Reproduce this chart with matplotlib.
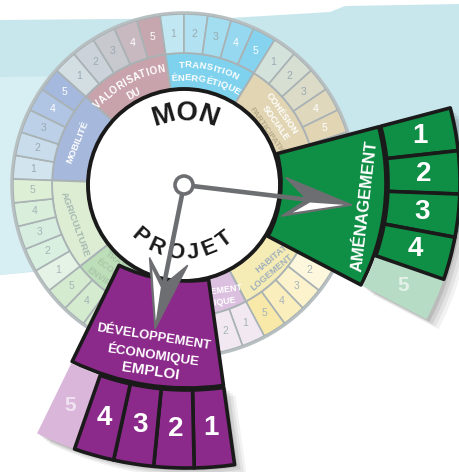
import numpy as np
import matplotlib
matplotlib.use("Agg")
import matplotlib.pyplot as plt
from matplotlib.patches import Wedge, Circle, Polygon
from matplotlib.font_manager import FontProperties
from matplotlib.textpath import TextToPath

# ---------------- data ----------------
themes = ["MOBILITÉ", "VALORISATION DU PATRIMOINE", "TRANSITION ÉNERGÉTIQUE",
          "COHÉSION SOCIALE PARTICIPATION", "AMÉNAGEMENT", "HABITAT LOGEMENT",
          "DÉVELOPPEMENT ÉCONOMIQUE EMPLOI", "TRANSITION ÉCOLOGIQUE ENVIRONNEMENT",
          "AGRICULTURE"]
levels = [1, 2, 3, 4, 5]
# level reached by the project on each selected theme (0 = not selected)
reached = [0, 0, 0, 0, 4, 0, 4, 0, 0]
popped_labels = {"AMÉNAGEMENT": ["AMÉNAGEMENT"],
                 "DÉVELOPPEMENT ÉCONOMIQUE EMPLOI": ["DÉVELOPPEMENT", "ÉCONOMIQUE", "EMPLOI"]}
center_words = ["MON", "PROJET"]

# ---------------- style ----------------
FONT = "Liberation Sans"
label_colors = ['#a6b8dc', '#c9a3ab', '#7fd2ee', '#e2d5b3', '#b8dcc3',
                '#f5ebb4', '#dcc0e0', '#bcdfba', '#dcedd3']
cell_colors = [
    ['#d2e5ee', '#c8dcec', '#bcd0e8', '#b0c4e3', '#a5b8dd'],
    ['#d3dee2', '#ccd2d9', '#c8c8cf', '#c8b9c1', '#c6a7af'],
    ['#c1e8f2', '#b2e2f1', '#a3ddf0', '#95d8f0', '#86d3ef'],
    ['#d4e2dc', '#d7dfd2', '#dbdbc7', '#dfd8bd', '#e2d5b4'],
    ['#c6e6d2'] * 5,
    ['#fefbe9', '#fdf7dd', '#fcf2cc', '#fbeebd', '#f9e9a9'],
    ['#f2e8f2'] * 5,
    ['#d4ebcf'] * 5,
    ['#e4f3e6', '#d9efe0', '#d7eddf', '#d9eedb', '#ddefd5'],
]
num_colors = [['#9aaab3'] * 3 + ['white'] * 2] * 4 + [['#a6b4b8'] * 5] * 5
label_text_colors = ['white', 'white', 'white', 'white', 'white',
                     '#9fb0bd', 'white', '#a9c6a6', '#a5b8b0']
popped_color = {"AMÉNAGEMENT": ('#0f8e45', '#b7dcc5'),
                "DÉVELOPPEMENT ÉCONOMIQUE EMPLOI": ('#8c2a8b', '#dab7da')}
GREY = '#6d6e71'

W, H = 460, 472
C = np.array([184.0, 287.0])
R_IN, R_MID, R_OUT = 96, 132, 171
START, STEP = 178, 40

fig = plt.figure(figsize=(4.6, 4.72), dpi=100)
ax = fig.add_axes([0, 0, 1, 1])
ax.set_xlim(0, W)
ax.set_ylim(0, H)
ax.axis('off')

ttp = TextToPath()


def pol(c, r, th):
    t = np.deg2rad(th)
    return c[0] + r * np.cos(t), c[1] + r * np.sin(t)


def arc_text(s, c, r, th_c, fs, color, top=True, track=0.0, weight='bold', z=2.5, alpha=1):
    fp = FontProperties(family=FONT, weight=weight, size=fs)
    widths = []
    for ch in s:
        w, h, d = ttp.get_text_width_height_descent(ch, fp, ismath=False)
        widths.append(w * 100 / 72 + track)
    widths = np.array(widths)
    cum = np.cumsum(widths) - widths / 2
    offs = (cum - widths.sum() / 2) / r * 180 / np.pi
    for ch, o in zip(s, offs):
        th = th_c - o if top else th_c + o
        rot = th - 90 if top else th + 90
        x, y = pol(c, r, th)
        ax.text(x, y, ch, fontproperties=fp, color=color, rotation=rot,
                ha='center', va='center', rotation_mode='anchor', zorder=z, alpha=alpha)


def straight(s, c, r, th, rot, fs, color, weight='bold', z=2.5, ha='center'):
    x, y = pol(c, r, th)
    ax.text(x, y, s, family=FONT, weight=weight, size=fs, color=color, rotation=rot,
            ha=ha, va='center', rotation_mode='anchor', zorder=z)


# ---------------- background band ----------------
ax.add_patch(Polygon([(0, 452), (230, 454), (330, 460), (345, 466), (460, 468),
                      (460, 240), (0, 197)], closed=True, fc='#c8e7ed', ec='none', zorder=0))
ax.add_patch(Polygon([(0, 395), (200, 397), (200, 220), (0, 197)], closed=True,
                     fc='#d7eff3', ec='none', zorder=0.5))

# ---------------- wheel ----------------
for i, name in enumerate(themes):
    t_hi = START - STEP * i
    t_lo = t_hi - STEP
    ax.add_patch(Wedge(C, R_MID, t_lo, t_hi, width=R_MID - R_IN, fc=label_colors[i],
                       ec='#a9b2b4', lw=1.4, zorder=1))
    cw = STEP / len(levels)
    for k, lv in enumerate(levels):
        a_hi = t_hi - cw * k
        ax.add_patch(Wedge(C, R_OUT, a_hi - cw, a_hi, width=R_OUT - R_MID,
                           fc=cell_colors[i][k], ec='#a9b2b4', lw=1.2, zorder=1))
        x, y = pol(C, (R_MID + R_OUT) / 2, a_hi - cw / 2)
        ax.text(x, y, str(lv), family=FONT, size=7.5, color=num_colors[i][k],
                ha='center', va='center', zorder=2)
ax.add_patch(Circle(C, R_OUT + 1.5, fc='none', ec='#b7bfc1', lw=1.8, zorder=2))

# ring labels
tc = label_text_colors
straight("MOBILITÉ", C, 115, 158, 68, 6.8, tc[0])
arc_text("VALORISATION", C, 118, 119, 7, tc[1], track=0.6)
arc_text("DU", C, 104, 119, 7, tc[1])
arc_text("TRANSITION", C, 120, 78, 6.8, tc[2], track=0.4)
arc_text("ÉNERGÉTIQUE", C, 107, 78, 6.8, tc[2], track=0.2)
straight("COHÉSION", C, 121, 36, -55, 6.6, tc[3])
straight("SOCIALE", C, 110, 34, -55, 6.6, tc[3])
straight("PARTICIPATION", C, 99, 31, -55, 6.0, '#b9ad8c')
straight("HABITAT", C, 114, -40, 40, 6.6, tc[5])
straight("LOGEMENT", C, 124, -45, 40, 6.6, tc[5])
straight("DÉVELOPPEMENT", C, 110, -80, 8, 6.4, tc[6])
straight("ÉCONOMIQUE", C, 121, -80, 8, 6.4, tc[6])
straight("TRANSITION", C, 103, -139, -36, 6.3, tc[7], ha='left')
straight("ÉCOLOGIQUE", C, 115, -139, -36, 6.3, tc[7], ha='left')
straight("ENVIRONNEMENT", C, 128, -139, -36, 6.3, tc[7], ha='left')
straight("AGRICULTURE", C, 116, -160, -70, 6.8, tc[8])

# white centre
ax.add_patch(Circle(C, R_IN, fc='white', ec='#1a1a1a', lw=2.8, zorder=3))

# ---------------- popped-out sectors ----------------
popped_geom = {
    "AMÉNAGEMENT": dict(c=np.array([166.0, 289.0]), t_hi=14.8, t_lo=-27.6,
                        r_in=115, r_lab=220, r_c0=222, r_c1=294),
    "DÉVELOPPEMENT ÉCONOMIQUE EMPLOI": dict(c=np.array([187.0, 346.0]), t_hi=-82, t_lo=-116,
                                            r_in=155, r_lab=262, r_c0=264, r_c1=342),
}

for i, name in enumerate(themes):
    if not reached[i]:
        continue
    g = popped_geom[name]
    c = g['c']
    dark, pale = popped_color[name]
    cw = (g['t_hi'] - g['t_lo']) / len(levels)
    # soft shadow
    for j, a in enumerate([0.10, 0.08, 0.06, 0.05]):
        off = np.array([3.0 * (j + 1), -2.5 * (j + 1)])
        ax.add_patch(Wedge(c + off, g['r_c1'], g['t_lo'], g['t_hi'],
                           width=g['r_c1'] - g['r_lab'], fc='black', ec='none',
                           alpha=a, zorder=4))
    ax.add_patch(Wedge(c, g['r_lab'], g['t_lo'], g['t_hi'], width=g['r_lab'] - g['r_in'],
                       fc=dark, ec='#1a1a1a', lw=2.6, joinstyle='round', zorder=5))
    for k, lv in enumerate(levels):
        a_hi = g['t_hi'] - cw * k
        on = lv <= reached[i]
        ax.add_patch(Wedge(c, g['r_c1'], a_hi - cw, a_hi, width=g['r_c1'] - g['r_c0'],
                           fc=dark if on else pale,
                           ec='#1a1a1a' if on else 'none', lw=2.6, joinstyle='round',
                           zorder=5.5 if on else 5))
        x, y = pol(c, (g['r_c0'] + g['r_c1']) / 2, a_hi - cw / 2)
        ax.text(x, y, str(lv), family=FONT, weight='bold', size=20 if on else 15,
                color='white', alpha=1 if on else 0.6, ha='center', va='center', zorder=6)

# popped labels
ga = popped_geom["AMÉNAGEMENT"]
straight(popped_labels["AMÉNAGEMENT"][0], ga['c'], 200, -6.6, 83.4, 12, 'white', z=7)
gd = popped_geom["DÉVELOPPEMENT ÉCONOMIQUE EMPLOI"]
for txt, r, th, fs in zip(popped_labels["DÉVELOPPEMENT ÉCONOMIQUE EMPLOI"],
                          [214, 231, 248], [-99.1, -98.4, -98.6], [9.3, 9.6, 11]):
    straight(txt, gd['c'], r, th, th + 90, fs, 'white', z=7)

# ---------------- centre words ----------------
arc_text(center_words[0], C, 72, 89, 20, '#1a1a1a', top=True, track=1.0, z=7)
arc_text(center_words[1], C, 68, -92, 16, '#1a1a1a', top=False, track=3.4, z=7)

# ---------------- arrows ----------------
def arrow(tip):
    tip = np.array(tip, float)
    d = tip - C
    u = d / np.linalg.norm(d)
    n = np.array([-u[1], u[0]])
    w1 = tip - u * 69 + n * 19.5
    w2 = tip - u * 69 - n * 19.5
    notch = tip - u * 45
    start = C + u * 9
    ax.plot([start[0], notch[0]], [start[1], notch[1]], color=GREY, lw=3.3,
            solid_capstyle='butt', zorder=8)
    ax.add_patch(Polygon([tip, w1, notch, w2], closed=True, fc=GREY, ec=GREY, lw=1,
                         joinstyle='miter', zorder=8))
    ax.add_patch(Polygon([tip - u * 58 - n * 14.5, tip - u * 42 - n * 2.5, tip - u * 8 - n * 0.8],
                         closed=True, fc='white', ec='none', zorder=8.5))


arrow((352, 267))
arrow((155, 143))
ax.add_patch(Circle(C, 9, fc='white', ec=GREY, lw=2.6, zorder=9))

fig.savefig("out.png", dpi=100)
